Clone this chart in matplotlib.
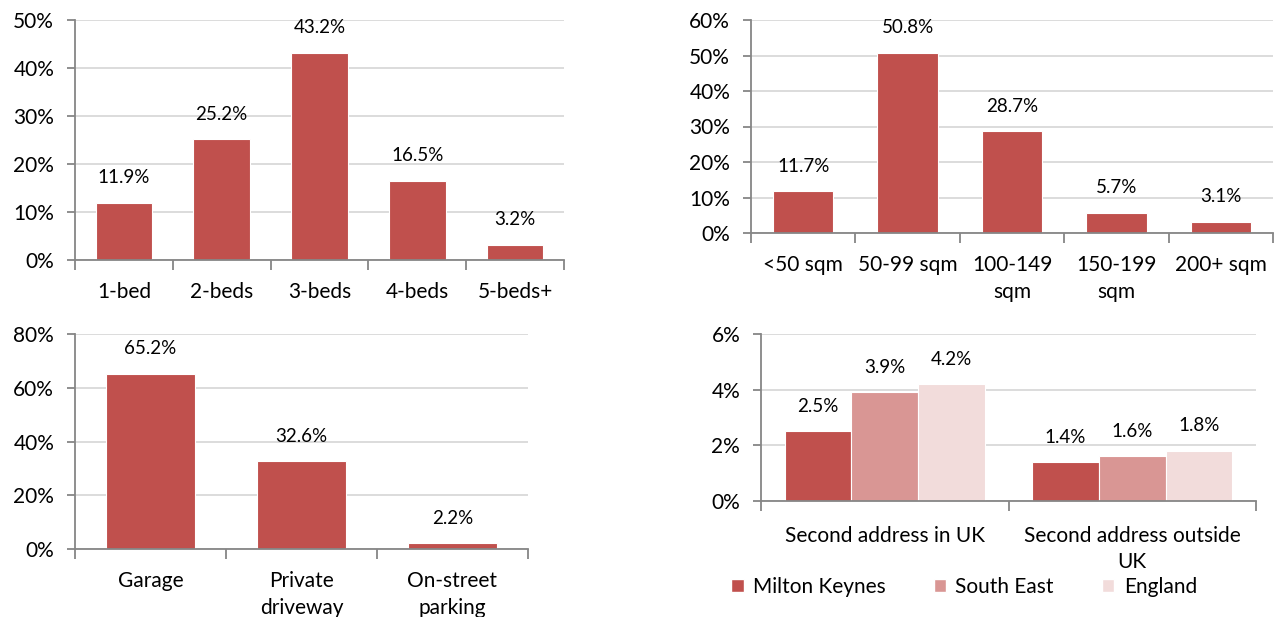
import matplotlib.pyplot as plt
from matplotlib.patches import Patch
from matplotlib.ticker import FixedLocator, PercentFormatter

plt.rcParams['font.family'] = ['Lato', 'DejaVu Sans']

RED = '#C0504D'
PINK = '#D99694'
PALE = '#F2DCDB'
GRID = '#D9D9D9'
AXIS = '#868686'

# bedrooms
bed_labels = ['1-bed', '2-beds', '3-beds', '4-beds', '5-beds+']
bed_values = [11.9, 25.2, 43.2, 16.5, 3.2]

# floor area
size_labels = ['<50 sqm', '50-99 sqm', '100-149\nsqm', '150-199\nsqm', '200+ sqm']
size_values = [11.7, 50.8, 28.7, 5.7, 3.1]

# parking
park_labels = ['Garage', 'Private\ndriveway', 'On-street\nparking']
park_values = [65.2, 32.6, 2.2]

# second address
addr_labels = ['Second address in UK', 'Second address outside\nUK']
series_names = ['Milton Keynes', 'South East', 'England']
mk_values = [2.5, 1.4]
se_values = [3.9, 1.6]
eng_values = [4.2, 1.8]

W, H = 1277, 617
fig = plt.figure(figsize=(W / 100, H / 100), dpi=100)


def px_axes(left, right, top, bottom):
    return fig.add_axes([left / W, 1 - bottom / H, (right - left) / W, (bottom - top) / H])


def style(ax, n, ymax, ystep, labels):
    ax.set_xlim(-0.5, n - 0.5)
    ax.set_ylim(0, ymax)
    ax.set_yticks([v for v in range(0, ymax + 1, ystep)])
    ax.yaxis.set_major_formatter(PercentFormatter(decimals=0))
    ax.grid(axis='y', color=GRID, linewidth=1.3, zorder=0)
    ax.set_axisbelow(True)
    for s in ['top', 'right']:
        ax.spines[s].set_visible(False)
    for s in ['left', 'bottom']:
        ax.spines[s].set_color(AXIS)
        ax.spines[s].set_linewidth(1.3)
    ax.set_xticks(range(n))
    ax.set_xticklabels(labels, linespacing=1.4)
    ax.xaxis.set_minor_locator(FixedLocator([i - 0.5 for i in range(n + 1)]))
    ax.tick_params(axis='x', which='major', length=0, pad=16, labelsize=15)
    ax.tick_params(axis='x', which='minor', length=7, width=1.3, color=AXIS)
    ax.tick_params(axis='y', length=6, width=1.3, color=AXIS, pad=9, labelsize=15)


def labels_on(ax, xs, vals):
    for x, v in zip(xs, vals):
        ax.annotate(f'{v:.1f}%', (x, v), xytext=(0, 18), textcoords='offset points',
                    ha='center', va='center', fontsize=13.5)


# top left
ax1 = px_axes(75, 564, 20, 260)
style(ax1, 5, 50, 10, bed_labels)
ax1.bar(range(5), bed_values, width=0.58, color=RED, edgecolor='white', linewidth=0.8, zorder=2)
labels_on(ax1, range(5), bed_values)

# top right
ax2 = px_axes(751, 1273, 20, 233)
style(ax2, 5, 60, 10, size_labels)
ax2.bar(range(5), size_values, width=0.58, color=RED, edgecolor='white', linewidth=0.8, zorder=2)
labels_on(ax2, range(5), size_values)

# bottom left
ax3 = px_axes(75, 528, 334, 549)
style(ax3, 3, 80, 20, park_labels)
ax3.bar(range(3), park_values, width=0.59, color=RED, edgecolor='white', linewidth=0.8, zorder=2)
labels_on(ax3, range(3), park_values)

# bottom right
ax4 = px_axes(761, 1256, 334, 501)
style(ax4, 2, 6, 2, addr_labels)
bw = 0.27
for off, vals, col in [(-bw, mk_values, RED), (0, se_values, PINK), (bw, eng_values, PALE)]:
    xs = [i + off for i in range(2)]
    ax4.bar(xs, vals, width=bw, color=col, edgecolor='white', linewidth=0.8, zorder=2)
    labels_on(ax4, xs, vals)
ax4.tick_params(axis='x', which='major', pad=18)

handles = [Patch(facecolor=c, edgecolor='white') for c in [RED, PINK, PALE]]
fig.legend(handles, series_names, loc='center', bbox_to_anchor=(964 / W, 1 - 587 / H),
           ncol=3, frameon=False, fontsize=15, handlelength=0.6, handleheight=0.6,
           handletextpad=0.45, columnspacing=2.3)

fig.savefig('out.png', dpi=100)
